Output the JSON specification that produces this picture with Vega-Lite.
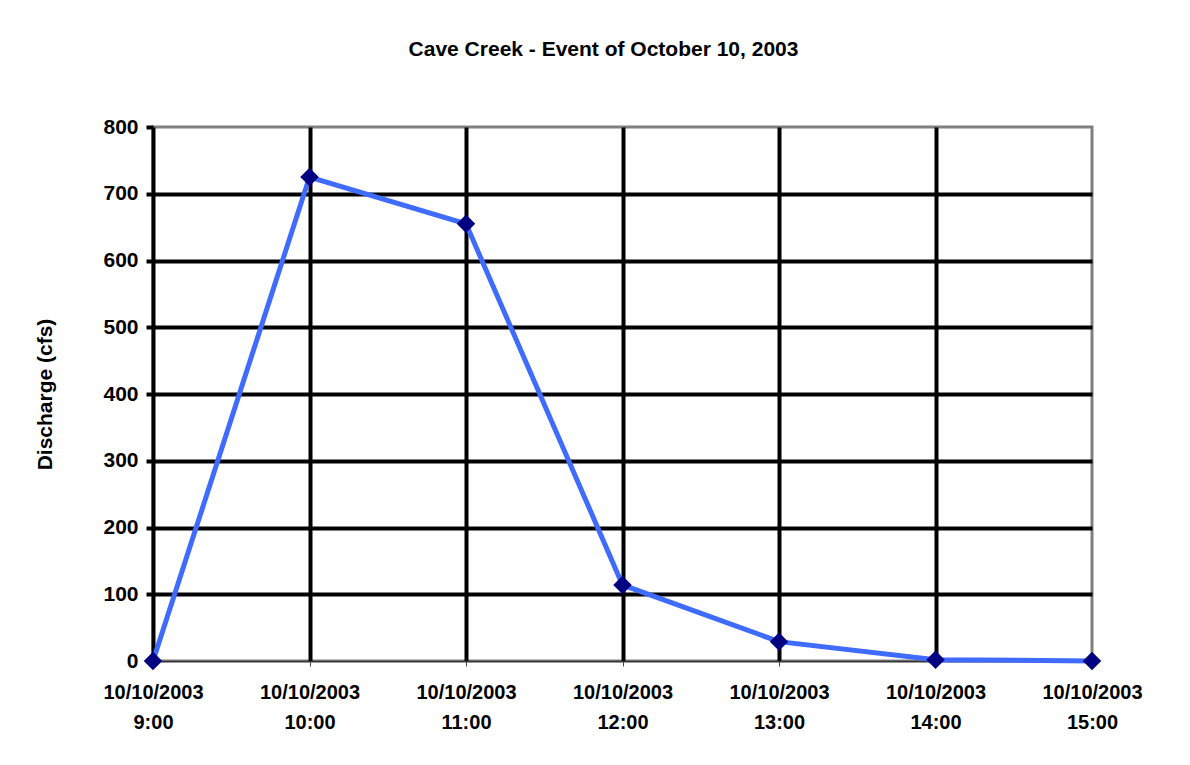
{
  "$schema": "https://vega.github.io/schema/vega-lite/v6.json",
  "autosize": "none",
  "width": 939,
  "height": 534,
  "padding": {"left": 153, "top": 127, "right": 98, "bottom": 104},
  "background": "white",
  "title": {
    "text": "Cave Creek - Event of October 10, 2003",
    "font": "Liberation Sans",
    "fontSize": 21,
    "fontWeight": "bold",
    "color": "black",
    "anchor": "middle",
    "dx": -19,
    "offset": 56
  },
  "config": {
    "view": {"stroke": "#808080", "strokeWidth": 3},
    "axis": {"labelFont": "Liberation Sans", "titleFont": "Liberation Sans", "labelColor": "black", "titleColor": "black"}
  },
  "data": {
    "values": [
      {"time": "10/10/2003|9:00", "discharge": 0},
      {"time": "10/10/2003|10:00", "discharge": 725},
      {"time": "10/10/2003|11:00", "discharge": 655},
      {"time": "10/10/2003|12:00", "discharge": 114},
      {"time": "10/10/2003|13:00", "discharge": 29},
      {"time": "10/10/2003|14:00", "discharge": 2},
      {"time": "10/10/2003|15:00", "discharge": 0}
    ]
  },
  "encoding": {
    "x": {
      "field": "time",
      "type": "ordinal",
      "sort": null,
      "scale": {"type": "point", "padding": 0},
      "axis": {
        "title": null,
        "labelAngle": 0,
        "labelExpr": "split(datum.value, '|')",
        "labelFontSize": 20,
        "labelFontWeight": "bold",
        "labelLineHeight": 30,
        "labelPadding": 16,
        "tickSize": 5,
        "tickColor": "#444",
        "tickWidth": 1,
        "domainColor": "#333",
        "domainWidth": 1.5,
        "grid": true,
        "gridColor": {"condition": {"test": "datum.value == '10/10/2003|15:00' || datum.value == '10/10/2003|9:00'", "value": "transparent"}, "value": "black"},
        "gridWidth": 4,
        "gridOpacity": 1
      }
    },
    "y": {
      "field": "discharge",
      "type": "quantitative",
      "scale": {"domain": [0, 800], "nice": false},
      "axis": {
        "title": "Discharge (cfs)",
        "titleFontSize": 21,
        "titleFontWeight": "bold",
        "titlePadding": 47,
        "values": [0, 100, 200, 300, 400, 500, 600, 700, 800],
        "labelFontSize": 21,
        "labelFontWeight": "bold",
        "labelPadding": 8,
        "tickSize": 7,
        "tickWidth": 4,
        "tickColor": "black",
        "domainColor": "black",
        "domainWidth": 4,
        "grid": true,
        "gridColor": {"condition": {"test": "datum.value == 0 || datum.value == 800", "value": "transparent"}, "value": "black"},
        "gridWidth": 4,
        "gridOpacity": 1
      }
    }
  },
  "layer": [
    {"mark": {"type": "line", "color": "#3F6BFF", "strokeWidth": 5}},
    {"mark": {"type": "point", "shape": "diamond", "filled": true, "color": "#000080", "opacity": 1, "size": 340}}
  ]
}
